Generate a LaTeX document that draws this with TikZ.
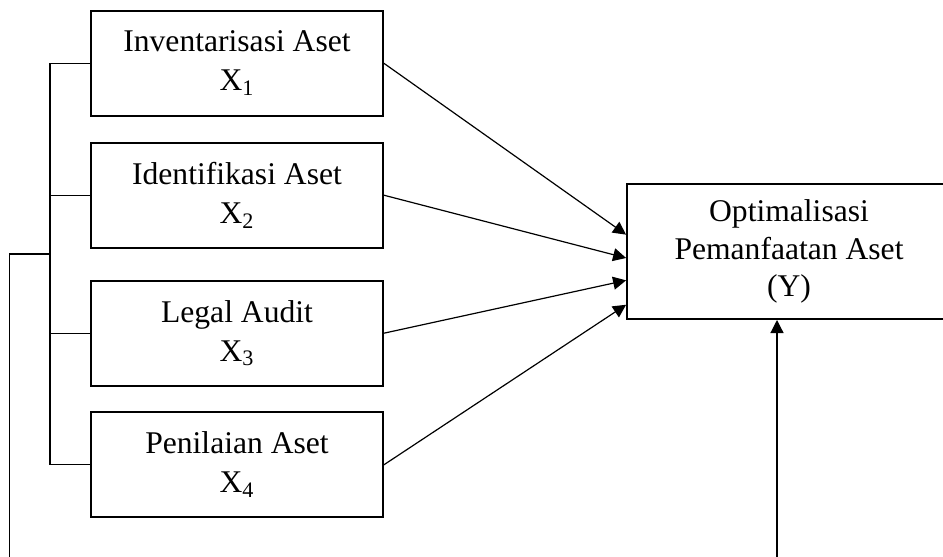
\documentclass[tikz,border=0pt]{standalone}
\usepackage{fontspec}
\setmainfont{Liberation Serif}
\usetikzlibrary{arrows.meta,calc}
\tikzset{
  varbox/.style={draw, line width=0.9pt, minimum width=146pt, minimum height=52.5pt,
    inner sep=0pt, align=center, font=\fontsize{15.8}{19.5}\selectfont},
  ybox/.style={draw, line width=0.9pt, minimum width=162pt, minimum height=67.7pt,
    inner sep=0pt, align=center, font=\fontsize{15.8}{18.8}\selectfont},
  conn/.style={line width=0.6pt},
  arr/.style={conn, -{Triangle[length=6.5pt,width=6.5pt]}}
}
\begin{document}
\begin{tikzpicture}[x=0.5pt,y=-0.5pt]
\useasboundingbox (0,0) rectangle (943,557);
\clip (0,0) rectangle (943,557);
\node[varbox] (X1) at (237,63.3) {Inventarisasi Aset\\X\textsubscript{1}};
\node[varbox] (X2) at (237,195.2) {Identifikasi Aset\\X\textsubscript{2}};
\node[varbox] (X3) at (237,333.2) {Legal Audit\\X\textsubscript{3}};
\node[varbox] (X4) at (237,464.8) {Penilaian Aset\\X\textsubscript{4}};
\node[ybox] (Y) at (789,251.4) {Optimalisasi\\Pemanfaatan Aset\\(Y)};
\coordinate (bx) at (50,0);
\coordinate (j) at (50,254);
\coordinate (jl) at (9.6,254);
\coordinate (b1) at (9.6,560);
\coordinate (b2) at (777,560);
% bracket
\draw[conn] (X1.west) -- (X1.west -| bx) -- (X4.west -| bx) -- (X4.west);
\draw[conn] (X2.west) -- (X2.west -| bx);
\draw[conn] (X3.west) -- (X3.west -| bx);
\draw[conn] (j) -- (jl) -- (b1);
% arrows
\draw[arr] (X1.east) -- ($(Y.north west)!0.378!(Y.south west)$);
\draw[arr] (X2.east) -- ($(Y.north west)!0.548!(Y.south west)$);
\draw[arr] (X3.east) -- ($(Y.north west)!0.711!(Y.south west)$);
\draw[arr] (X4.east) -- ($(Y.north west)!0.889!(Y.south west)$);
\draw[arr] (b2) -- (b2 |- Y.south);
\end{tikzpicture}
\end{document}
